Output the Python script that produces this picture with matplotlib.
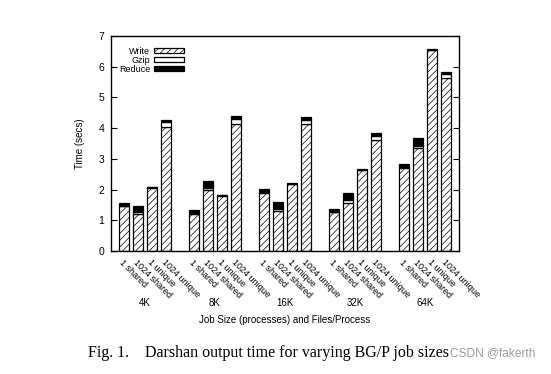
import matplotlib
matplotlib.use("Agg")
import matplotlib.pyplot as plt
import matplotlib.transforms as mtransforms
import numpy as np

plt.rcParams['font.family'] = ['Liberation Sans', 'DejaVu Sans']
plt.rcParams['hatch.linewidth'] = 0.5

# data
groups = ["4K", "8K", "16K", "32K", "64K"]
configs = ["1 shared", "1024 shared", "1 unique", "1024 unique"]

# one row per job size, one column per files/process config
write = np.array([
    [1.45, 1.20, 2.06, 4.05],
    [1.22, 1.98, 1.80, 4.14],
    [1.90, 1.30, 2.17, 4.13],
    [1.26, 1.57, 2.63, 3.62],
    [2.71, 3.34, 6.55, 5.62],
])
gzip = np.array([
    [0.02, 0.08, 0.01, 0.14],
    [0.02, 0.08, 0.01, 0.16],
    [0.01, 0.08, 0.01, 0.15],
    [0.01, 0.09, 0.01, 0.14],
    [0.01, 0.08, 0.01, 0.13],
])
reduce_ = np.array([
    [0.10, 0.20, 0.02, 0.08],
    [0.11, 0.22, 0.02, 0.11],
    [0.10, 0.23, 0.02, 0.07],
    [0.10, 0.22, 0.02, 0.09],
    [0.11, 0.25, 0.02, 0.09],
])

# ---- figure ----
fig = plt.figure(figsize=(5.51, 3.74), dpi=100)
ax = fig.add_axes([111/551, 1-251/374, (459-111)/551, (251-36)/374])

ngrp, ncfg = write.shape
xpos = np.array([g*5 + j for g in range(ngrp) for j in range(ncfg)], dtype=float)
w = write.ravel()
gz = gzip.ravel()
rd = reduce_.ravel()
bw = 0.78
lw = 0.9

ax.bar(xpos, w, bw, color='white', edgecolor='black', hatch='/////',
       linewidth=lw, label='Write')
ax.bar(xpos, gz, bw, bottom=w, color='white', edgecolor='black',
       linewidth=lw, label='Gzip')
ax.bar(xpos, rd, bw, bottom=w+gz, color='black', edgecolor='black',
       linewidth=lw, label='Reduce')

ax.set_xlim(-0.93, 23.93)
ax.set_ylim(0, 7)
ax.set_yticks(range(8))
ax.tick_params(axis='y', direction='in', length=4, width=0.8, labelsize=7.5,
               right=True, pad=5)
ax.set_xticks(xpos)
ax.set_xticklabels(configs * ngrp, rotation=-45, ha='left', va='top',
                   rotation_mode='anchor', fontsize=6.5)
ax.tick_params(axis='x', length=0, pad=5)
for s in ax.spines.values():
    s.set_linewidth(1.0)

ax.set_ylabel("Time (secs)", fontsize=7)
ax.yaxis.set_label_coords(-0.075, 0.5)

trans = mtransforms.blended_transform_factory(ax.transData, ax.transAxes)
for g, name in enumerate(groups):
    ax.text(g*5 + 1.5, -0.242, name, transform=trans, ha='center',
            va='center', fontsize=7)
ax.text(0.5, -0.32, "Job Size (processes) and Files/Process",
        transform=ax.transAxes, ha='center', va='center', fontsize=7)

leg = ax.legend(loc='upper right', bbox_to_anchor=(0.21, 0.95), frameon=False,
                markerfirst=False, fontsize=6.5, handlelength=3.3,
                handleheight=0.55, labelspacing=0.0, handletextpad=0.45,
                borderaxespad=0.0, borderpad=0.0)
for t in leg.get_texts():
    t.set_ha('right')

fig.text(88/551, 1-353/374,
         "Fig. 1.    Darshan output time for varying BG/P job sizes",
         family=['Liberation Serif', 'DejaVu Serif'], fontsize=11.5,
         va='center', ha='left')
fig.text(450/551, 1-353/374, "CSDN @fakerth", color='#9a9a9a',
         fontsize=8.6, va='center', ha='left')

fig.savefig("out.png", dpi=100)
